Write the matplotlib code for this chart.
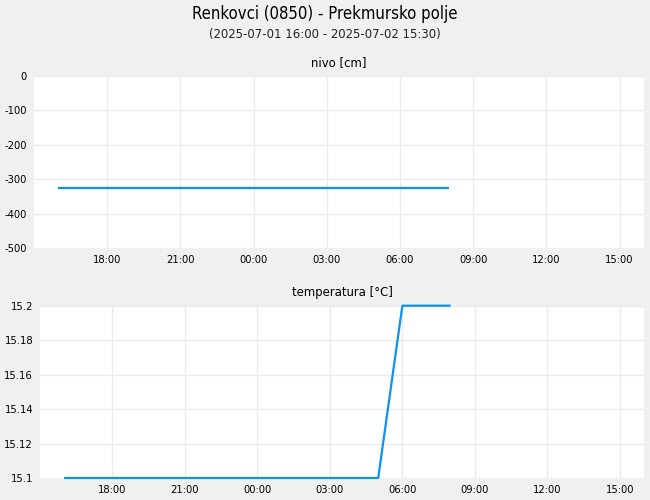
import matplotlib
matplotlib.use("Agg")
import matplotlib.pyplot as plt
import matplotlib.dates as mdates
from datetime import datetime

plt.rcParams["axes.unicode_minus"] = False

# Data
level_times = ["2025-07-01 16:00", "2025-07-02 08:00"]
level_values = [-326, -326]

temp_times = ["2025-07-01 16:00", "2025-07-02 05:00", "2025-07-02 06:00", "2025-07-02 08:00"]
temp_values = [15.1, 15.1, 15.2, 15.2]

x_start = "2025-07-01 15:00"
x_end = "2025-07-02 16:00"
x_ticks = ["2025-07-01 18:00", "2025-07-01 21:00", "2025-07-02 00:00", "2025-07-02 03:00",
           "2025-07-02 06:00", "2025-07-02 09:00", "2025-07-02 12:00", "2025-07-02 15:00"]

title = "Renkovci (0850) - Prekmursko polje"
subtitle = "(2025-07-01 16:00 - 2025-07-02 15:30)"
title_top = "nivo [cm]"
title_bottom = "temperatura [°C]"

def parse(lst):
    return [datetime.strptime(s, "%Y-%m-%d %H:%M") for s in lst]

bg = "#f0f0f0"
grid_c = "#ebebeb"
line_c = "#0a93f0"
cond = "condensed"

fig = plt.figure(figsize=(6.5, 5), dpi=100, facecolor=bg)
ax1 = fig.add_axes([0.0523, 0.504, 0.9385, 0.3446])
ax2 = fig.add_axes([0.0615, 0.044, 0.9292, 0.3446])

fig.text(0.5, 0.972, title, ha="center", va="center", fontsize=12, fontstretch=cond)
fig.text(0.5, 0.931, subtitle, ha="center", va="center", fontsize=9.4, fontstretch=cond, color="#222222")

xs = datetime.strptime(x_start, "%Y-%m-%d %H:%M")
xe = datetime.strptime(x_end, "%Y-%m-%d %H:%M")

def style(ax):
    ax.set_facecolor("white")
    for s in ax.spines.values():
        s.set_visible(False)
    ax.grid(True, color=grid_c, linewidth=1)
    ax.set_axisbelow(True)
    ax.tick_params(length=0, labelsize=8, pad=5)
    ax.set_xlim(xs, xe)
    ax.set_xticks(parse(x_ticks))
    ax.xaxis.set_major_formatter(mdates.DateFormatter("%H:%M"))
    for lab in ax.get_xticklabels() + ax.get_yticklabels():
        lab.set_fontstretch(cond)

ax1.plot(parse(level_times), level_values, color=line_c, lw=1.6, solid_capstyle="butt")
ax1.set_ylim(-500, 0)
ax1.set_yticks([0, -100, -200, -300, -400, -500])
style(ax1)
ax1.set_title(title_top, fontsize=9.4, pad=7, fontstretch=cond)

ax2.plot(parse(temp_times), temp_values, color=line_c, lw=1.6, solid_capstyle="butt", clip_on=False)
ax2.set_ylim(15.1, 15.2)
ax2.set_yticks([15.1, 15.12, 15.14, 15.16, 15.18, 15.2])
ax2.set_yticklabels(["15.1", "15.12", "15.14", "15.16", "15.18", "15.2"])
style(ax2)
ax2.set_title(title_bottom, fontsize=9.4, pad=7, fontstretch=cond)

fig.savefig("out.png", dpi=100, facecolor=bg)
